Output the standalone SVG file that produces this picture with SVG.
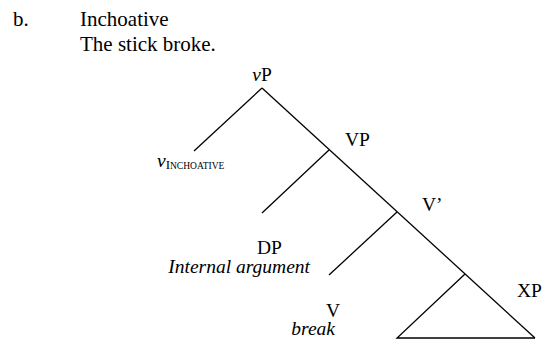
<svg xmlns="http://www.w3.org/2000/svg" width="544" height="342" viewBox="0 0 544 342">
<style>
.h{font-size:21px}
.t{font-size:19.5px}
.i{font-style:italic}
.e{stroke:#000;stroke-width:1.3;fill:none}
</style>
<rect width="544" height="342" fill="#fff"/>
<g font-family="'Liberation Serif', 'DejaVu Serif', serif" fill="#000">
<g id="header">
<text class="h" x="13" y="26">b.</text>
<text class="h" x="80" y="26">Inchoative</text>
<text class="h" x="80" y="51">The stick broke.</text>
</g>
<g id="vP"><text class="t" x="262" y="81" text-anchor="middle"><tspan class="i">v</tspan>P</text></g>
<g id="vInch"><text class="t" x="157" y="167"><tspan class="i">v</tspan><tspan font-size="13" dy="2">I</tspan><tspan font-size="9.5">NCHOATIVE</tspan></text></g>
<g id="VP"><text class="t" x="345" y="146">VP</text></g>
<g id="Vbar"><text class="t" x="422" y="211">V’</text></g>
<g id="DP"><text class="t" x="257" y="254">DP</text><text class="t i" x="310" y="273" text-anchor="end">Internal argument</text></g>
<g id="V"><text class="t" x="326" y="317">V</text><text class="t i" x="335" y="335" text-anchor="end">break</text></g>
<g id="XP"><text class="t" x="517" y="297">XP</text></g>
</g>
<g id="connectors">
<line class="e" x1="262" y1="88" x2="535" y2="338"/>
<line class="e" x1="262" y1="88" x2="194" y2="151"/>
<line class="e" x1="329" y1="150" x2="262" y2="213"/>
<line class="e" x1="397" y1="212" x2="329" y2="275"/>
<path class="e" d="M465 274 L397 338 L535 338"/>
</g>
</svg>
